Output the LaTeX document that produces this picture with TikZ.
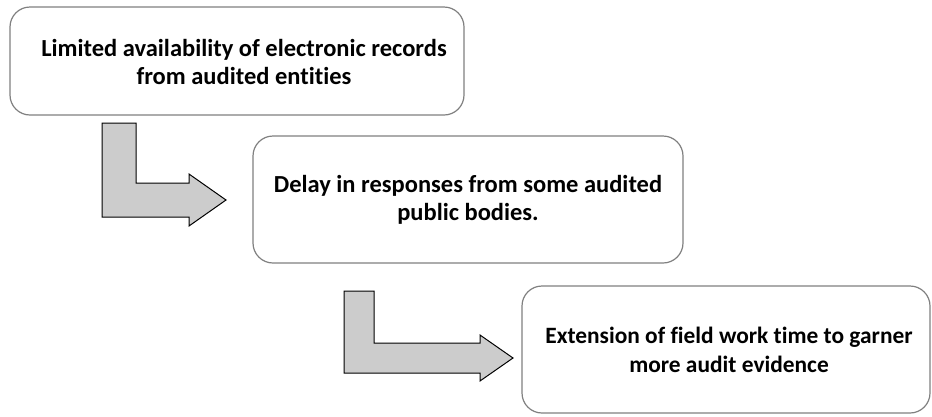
\documentclass[tikz,border=0pt]{standalone}
\usepackage{fontspec}
\setmainfont{Carlito}[Ligatures=NoCommon]
\begin{document}
\begin{tikzpicture}[x=1pt,y=-1pt,
  box/.style={draw=black!50,line width=1.2pt,rounded corners=20pt,fill=white},
  label/.style={align=center,inner sep=0pt,font=\bfseries\fontsize{24.5}{28.5}\selectfont},
  bent/.style={draw=black,line width=1pt,fill=black!20,line join=miter}]
\useasboundingbox (0,0) rectangle (932,416);
\draw[box] (10,7) rectangle (464,115);
\node[label] (b1) at (244,62)
  {Limited availability of electronic records\\from audited entities};
\draw[box] (253,136) rectangle (683,263);
\node[label] (b2) at (468,200)
  {Delay in responses from some audited\\public bodies.};
\draw[box] (522,286) rectangle (930,413);
\node[label,font=\bfseries\fontsize{23.4}{28.5}\selectfont] (b3) at (729,350)
  {Extension of field work time to garner\\more audit evidence};
% bent arrow 1
\draw[bent] (102,123) -- (136,123) -- (136,183) -- (189,183) -- (189,174)
  -- (226,200) -- (189,226) -- (189,217) -- (102,217) -- cycle;
% bent arrow 2
\draw[bent] (344,291) -- (374,291) -- (374,343) -- (480,343) -- (480,335)
  -- (513,358) -- (480,381) -- (480,373) -- (344,373) -- cycle;
\end{tikzpicture}
\end{document}
